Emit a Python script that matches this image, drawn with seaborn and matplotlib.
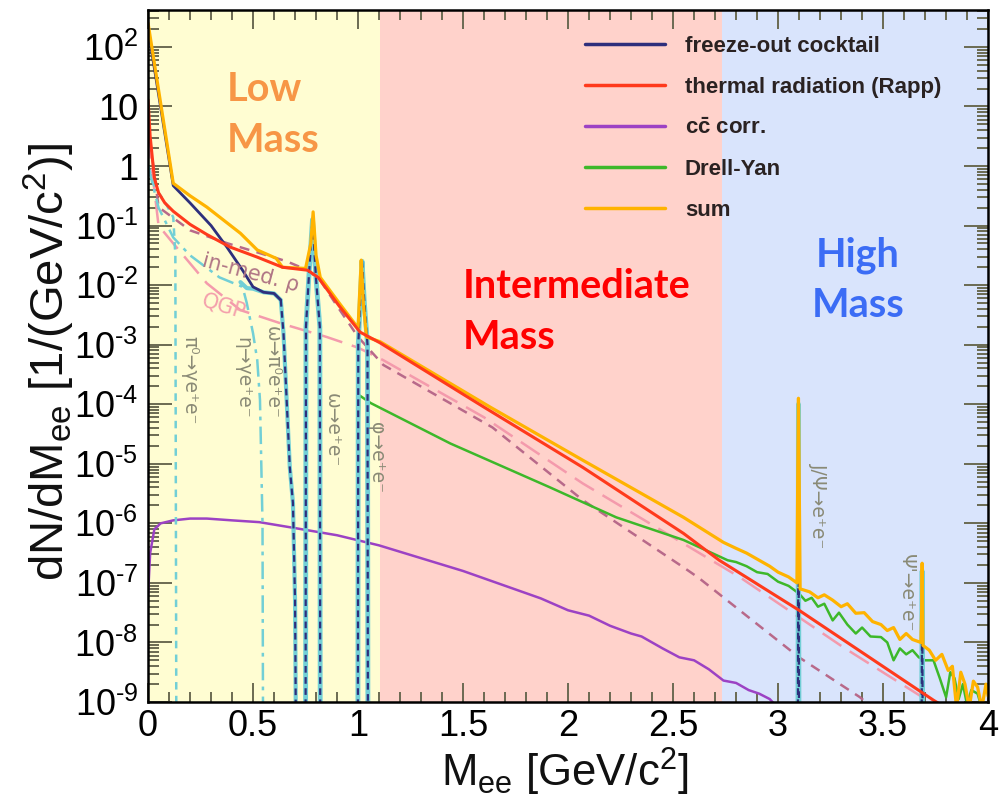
import numpy as np
import matplotlib
matplotlib.use("Agg")
import matplotlib.pyplot as plt
import seaborn as sns
from matplotlib.ticker import FixedLocator, LogLocator, NullFormatter, MultipleLocator, FuncFormatter

# ---------------- data (x = M_ee in GeV/c^2, values are log10 of dN/dM_ee) -------------
region_edges = [0.0, 1.105, 2.733, 4.0]
region_colors = ["#fffdd2", "#ffd2cb", "#d9e4fc"]

sum_x = [0.0, 0.12, 0.2, 0.28, 0.44, 0.52, 0.61, 0.64, 0.75, 0.775, 0.786, 0.80, 0.82, 0.91, 1.0, 1.008,
         1.015, 1.025, 1.04, 1.105, 1.63, 2.07, 2.55, 2.74, 2.80, 2.85, 2.91, 2.96, 3.00, 3.05, 3.09, 3.094,
         3.097, 3.100, 3.105, 3.15, 3.19, 3.22, 3.26, 3.30, 3.33, 3.37, 3.41, 3.45, 3.49, 3.52, 3.55, 3.58,
         3.61, 3.64, 3.68, 3.684, 3.686, 3.688, 3.69, 3.72, 3.75, 3.78, 3.81, 3.83, 3.85, 3.87, 3.89, 3.91,
         3.93, 3.95, 3.97, 3.99, 4.0]
sum_log = [2.4, -0.29, -0.5, -0.69, -1.13, -1.41, -1.55, -1.70, -1.72, -1.3, -0.77, -1.5, -1.87, -2.30, -2.72,
           -2.1, -1.58, -2.3, -2.87, -2.95, -4.05, -4.94, -5.90, -6.32, -6.42, -6.5, -6.62, -6.72, -6.82, -6.9,
           -7.0, -5.0, -3.9, -5.0, -7.1, -7.15, -7.25, -7.2, -7.29, -7.4, -7.35, -7.51, -7.5, -7.65, -7.7, -7.80,
           -7.75, -7.95, -7.85, -7.95, -8.0, -7.4, -6.67, -7.4, -8.05, -8.13, -8.3, -8.2, -8.47, -8.4, -9.1,
           -8.5, -8.7, -9.1, -8.65, -8.75, -9.1, -8.7, -8.9]

therm_x = [0.0, 0.01, 0.03, 0.05, 0.08, 0.12, 0.2, 0.28, 0.39, 0.52, 0.64, 0.76, 0.81, 0.91, 1.01, 1.105,
           1.6, 2.07, 2.55, 2.72, 3.10, 3.74, 3.8]
therm_log = [1.11, 0.5, -0.2, -0.45, -0.62, -0.76, -0.98, -1.15, -1.36, -1.53, -1.70, -1.75, -1.87, -2.35,
             -2.79, -2.97, -4.05, -5.06, -6.17, -6.62, -7.46, -8.97, -9.1]

cock_x = [0.0, 0.12, 0.2, 0.3, 0.375, 0.45, 0.50, 0.55, 0.60, 0.632]
cock_log = [2.3, -0.33, -0.62, -1.0, -1.36, -1.75, -2.03, -2.12, -2.14, -2.25]
omegaD_x = [0.44, 0.47, 0.50, 0.55, 0.60, 0.632, 0.645, 0.66, 0.675, 0.69, 0.70, 0.705]
omegaD_log = [-1.95, -2.05, -2.06, -2.12, -2.14, -2.25, -2.81, -3.93, -5.06, -5.66, -7.3, -10.0]
omega_x = [0.750, 0.752, 0.765, 0.783, 0.800, 0.818, 0.820]
omega_log = [-10.0, -2.7, -1.9, -0.9, -1.9, -2.7, -10.0]
phi_x = [0.999, 1.001, 1.010, 1.019, 1.030, 1.045, 1.047]
phi_log = [-10.0, -3.0, -2.3, -1.6, -2.3, -3.0, -10.0]
jpsi_x = [3.094, 3.096, 3.097, 3.098, 3.100]
jpsi_log = [-10.0, -7.0, -4.0, -7.0, -10.0]
psi2_x = [3.683, 3.685, 3.686, 3.687, 3.689]
psi2_log = [-10.0, -8.0, -6.8, -8.0, -10.0]

pi0_x = [0.0, 0.03, 0.08, 0.12, 0.13, 0.135]
pi0_log = [0.0, -0.35, -0.6, -0.86, -1.5, -10.0]
eta_x = [0.0, 0.05, 0.12, 0.2, 0.34, 0.45, 0.47, 0.50, 0.52, 0.533, 0.545, 0.548]
eta_log = [0.0, -0.7, -1.2, -1.5, -1.87, -2.03, -2.30, -2.81, -3.26, -3.93, -6.0, -10.0]

dy_x = [1.003, 1.006, 1.06, 1.44, 1.91, 2.23, 2.55, 2.76, 2.80, 2.85, 2.90, 2.95, 3.00, 3.05, 3.10, 3.13,
        3.16, 3.19, 3.22, 3.26, 3.29, 3.33, 3.37, 3.40, 3.44, 3.49, 3.52, 3.55, 3.58, 3.61, 3.64, 3.67, 3.70,
        3.74, 3.77, 3.80, 3.82, 3.84, 3.86, 3.88, 3.90, 3.92, 3.95, 3.97, 4.0]
dy_log = [-4.3, -3.85, -3.98, -4.66, -5.39, -5.90, -6.28, -6.62, -6.65, -6.72, -6.82, -6.85, -6.98, -7.05,
          -7.18, -7.3, -7.25, -7.4, -7.35, -7.63, -7.5, -7.7, -7.85, -7.75, -7.9, -7.91, -8.0, -8.3, -8.1,
          -8.2, -8.13, -8.25, -8.3, -8.30, -8.6, -8.92, -8.5, -8.6, -8.95, -8.7, -9.05, -8.8, -8.86, -9.1, -9.1]

cc_x = [0.0, 0.01, 0.03, 0.06, 0.12, 0.2, 0.28, 0.4, 0.53, 0.7, 0.9, 1.1, 1.5, 1.87, 2.0, 2.1, 2.2, 2.3,
        2.35, 2.45, 2.53, 2.6, 2.67, 2.74, 2.8, 2.86, 2.91, 2.96, 3.0]
cc_log = [-7.2, -6.5, -6.1, -6.0, -5.95, -5.92, -5.92, -5.95, -5.98, -6.08, -6.2, -6.37, -6.8, -7.26, -7.46,
          -7.55, -7.72, -7.85, -7.9, -8.1, -8.25, -8.3, -8.45, -8.64, -8.68, -8.8, -8.86, -8.95, -9.1]

rho_x = [0.0, 0.05, 0.2, 0.38, 0.52, 0.66, 0.76, 0.82, 0.9, 1.0, 1.12, 1.64, 2.07, 2.55, 2.62, 3.10, 3.39, 3.45]
rho_log = [0.7, -0.69, -1.08, -1.30, -1.45, -1.6, -1.75, -1.92, -2.35, -2.87, -3.34, -4.39, -5.61, -6.74,
           -6.91, -8.25, -8.92, -9.1]

qgp_x = [0.0, 0.05, 0.12, 0.28, 0.44, 0.63, 0.85, 1.0, 1.12, 1.6, 2.07, 2.55, 2.82, 3.31, 3.71, 3.75]
qgp_log = [0.5, -1.0, -1.3, -1.97, -2.42, -2.64, -2.87, -3.05, -3.26, -4.22, -5.33, -6.34, -6.91, -8.08,
           -8.97, -9.1]

legend_labels = ["freeze-out cocktail", "thermal radiation (Rapp)", r"$\mathbf{c\bar{c}}$ corr.",
                 "Drell-Yan", "sum"]

decay_labels = ["π⁰→γe⁺e⁻", "η→γe⁺e⁻", "ω→π⁰e⁺e⁻", "ω→e⁺e⁻", "φ→e⁺e⁻", "J/Ψ→e⁺e⁻", "Ψ'→e⁺e⁻"]
decay_x = [0.20, 0.45, 0.59, 0.875, 1.09, 3.19, 3.61]
decay_log = [-3.6, -3.56, -3.46, -4.44, -4.9, -5.70, -7.18]

region_texts = ["Low\nMass", "Intermediate\nMass", "High\nMass"]
region_text_x = [0.376, 1.50, 3.38]
region_text_log = [0.86, -2.45, -1.92]
region_text_colors = ["#f79646", "#ff0000", "#3b6cf5"]

x_ticks = [0, 0.5, 1, 1.5, 2, 2.5, 3, 3.5, 4]
y_exponents = list(range(-9, 3))

# ---------------- style ----------------
sns.set_theme(style="ticks")
plt.rcParams["font.family"] = ["Liberation Sans", "DejaVu Sans"]
plt.rcParams["mathtext.fontset"] = "custom"
plt.rcParams["mathtext.rm"] = "Liberation Sans"
plt.rcParams["mathtext.it"] = "Liberation Sans:italic"
plt.rcParams["mathtext.bf"] = "Liberation Sans:bold"

fig = plt.figure(figsize=(10.01, 7.98), dpi=100)
ax = fig.add_axes([0.1479, 0.1203, 0.8392, 0.8672])

for a, b, c in zip(region_edges[:-1], region_edges[1:], region_colors):
    ax.axvspan(a, b, color=c, lw=0, zorder=0)


def line(xv, lv, **kw):
    sns.lineplot(x=np.asarray(xv, float), y=10.0 ** np.asarray(lv, float), ax=ax, sort=False,
                 estimator=None, legend=False, **kw)


C_NAVY = "#2e2f7c"
C_RED = "#ff3a1c"
C_PURP = "#9c42c4"
C_GREEN = "#3db82a"
C_SUM = "#ffb300"
C_CYAN = "#72cfd6"

# components
line(cc_x, cc_log, color=C_PURP, lw=1.8, zorder=3, label=legend_labels[2])
line(qgp_x, qgp_log, color="#f49aac", lw=1.8, linestyle=(0, (9, 4)), zorder=3)
line(rho_x, rho_log, color="#b8698a", lw=1.8, linestyle=(0, (4, 3)), zorder=3)
line(dy_x, dy_log, color=C_GREEN, lw=1.8, zorder=4, label=legend_labels[3])
line(pi0_x, pi0_log, color=C_CYAN, lw=1.8, linestyle=(0, (3, 2.5)), zorder=4)
line(eta_x, eta_log, color=C_CYAN, lw=1.8, linestyle=(0, (7, 2.5, 1.5, 2.5)), zorder=4)
line(omegaD_x, omegaD_log, color=C_CYAN, lw=3.0, zorder=4)
for rx, rl in [(omega_x, omega_log), (phi_x, phi_log), (jpsi_x, jpsi_log), (psi2_x, psi2_log)]:
    line(rx, rl, color=C_CYAN, lw=3.5, zorder=4)
# cocktail: continuum solid, drops and resonances dashed
line(cock_x, cock_log, color=C_NAVY, lw=2.0, zorder=5, label=legend_labels[0])
for rx, rl in [(omegaD_x[5:], omegaD_log[5:]), (omega_x, omega_log), (phi_x, phi_log),
               (jpsi_x, jpsi_log), (psi2_x, psi2_log)]:
    line(rx, rl, color=C_NAVY, lw=1.6, linestyle=(0, (3, 2)), zorder=5)
# sum
line(sum_x, sum_log, color=C_SUM, lw=2.3, zorder=6, label=legend_labels[4])
# thermal
line(therm_x, therm_log, color=C_RED, lw=2.2, zorder=7, label=legend_labels[1])

# ---------------- axes ----------------
ax.set_yscale("log")
ax.set_xlim(0, 4)
ax.set_ylim(1e-9, 10 ** 2.62)
ax.xaxis.set_major_locator(FixedLocator(x_ticks))
ax.xaxis.set_minor_locator(MultipleLocator(0.1))
ax.xaxis.set_major_formatter(FuncFormatter(lambda v, p: f"{v:g}"))

HYPH = "\u2010"


def ylab(v, p):
    e = int(round(np.log10(v)))
    if e == 0:
        return "1"
    if e == 1:
        return "10"
    if e < 0:
        return "$\\mathregular{10^{" + HYPH + str(-e) + "}}$"
    return "$\\mathregular{10^{" + str(e) + "}}$"


ax.yaxis.set_major_locator(FixedLocator([10.0 ** e for e in y_exponents]))
ax.yaxis.set_major_formatter(FuncFormatter(ylab))
ax.yaxis.set_minor_locator(LogLocator(base=10, subs=np.arange(2, 10), numticks=100))
ax.yaxis.set_minor_formatter(NullFormatter())

tc = "#6b6a52"
ax.tick_params(axis="both", which="both", direction="in", top=True, right=True, color=tc, width=1.4,
               labelsize=26, labelcolor="black")
ax.tick_params(axis="x", which="major", length=14, pad=5)
ax.tick_params(axis="x", which="minor", length=7)
ax.tick_params(axis="y", which="major", length=17, pad=7)
ax.tick_params(axis="y", which="minor", length=8)
for s in ax.spines.values():
    s.set_linewidth(1.8)
    s.set_color("black")
    s.set_zorder(10)

ax.set_xlabel(r"M$_{\rm ee}$ [GeV/c$^{2}$]", fontsize=31.5, color="#111111")
ax.set_ylabel(r"dN/dM$_{\rm ee}$ [1/(GeV/c$^{2}$)]", fontsize=34, color="#111111")
ax.xaxis.set_label_coords(0.496, -0.063)
ax.yaxis.set_label_coords(-0.085, 0.491)

# ---------------- texts ----------------
for t, xx, ll in zip(decay_labels, decay_x, decay_log):
    ax.text(xx, 10.0 ** ll, t, rotation=-90, ha="center", va="center", fontsize=13.5,
            color="#8a8a76", family=["DejaVu Sans"], zorder=8)
ax.text(0.49, 10 ** -1.80, "in-med. ρ", rotation=-15, ha="center", va="center", fontsize=15,
        color="#b07585", family=["DejaVu Sans"], zorder=8)
ax.text(0.36, 10 ** -2.35, "QGP", rotation=-17, ha="center", va="center", fontsize=15,
        color="#f4a0ac", family=["DejaVu Sans"], zorder=8)

for t, xx, ll, c in zip(region_texts, region_text_x, region_text_log, region_text_colors):
    ha = "center" if t.startswith("High") else "left"
    ax.text(xx, 10.0 ** ll, t, ha=ha, va="center", multialignment=ha, fontsize=28.5, fontweight="bold",
            color=c, family=["Lato", "DejaVu Sans"], linespacing=1.45, zorder=8)

# ---------------- legend ----------------
h, l = ax.get_legend_handles_labels()
order = [l.index(s) for s in legend_labels]
leg = ax.legend([h[i] for i in order], [l[i] for i in order], loc="upper left",
                bbox_to_anchor=(0.52, 0.962), frameon=False, prop={"size": 16, "weight": "bold"},
                handlelength=3.6, handletextpad=0.9, labelspacing=0.9, borderpad=0, borderaxespad=0)
for txt in leg.get_texts():
    txt.set_color("#2a2222")
for ln in leg.get_lines():
    ln.set_linewidth(2.5)
    ln.set_linestyle("-")
leg.set_zorder(9)

fig.savefig("out.png", dpi=100)
